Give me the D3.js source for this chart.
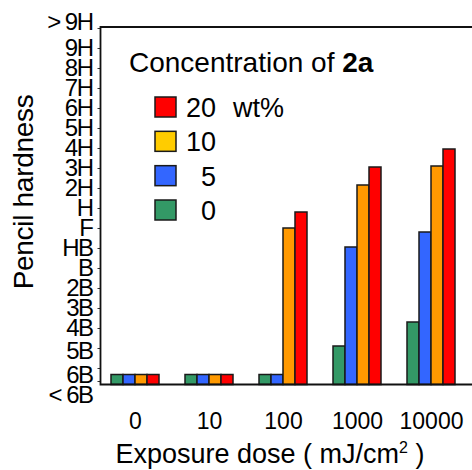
<!DOCTYPE html>
<html>
<head>
<meta charset="utf-8">
<script src="https://cdn.jsdelivr.net/npm/d3@7"></script>
<style>
  body { margin: 0; background: #fff; }
  text { font-family: "Liberation Sans", Arial, sans-serif; fill: #000; }
</style>
</head>
<body>
<div id="wrapper"></div>
<script>
// data
const doses = ["0", "10", "100", "1000", "10000"]
const concentrations = ["0", "5", "10", "20"]
const hardnessLabels = ["< 6B", "6B", "5B", "4B", "3B", "2B", "B", "HB", "F", "H",
  "2H", "3H", "4H", "5H", "6H", "7H", "8H", "9H", "> 9H"]
// hardness as index into hardnessLabels (0.5 = below 6B)
const wt0 = [0.5, 0.5, 0.5, 2.1, 3.3]
const wt5 = [0.5, 0.5, 0.5, 7.05, 7.8]
const wt10 = [0.5, 0.5, 8, 10.15, 11.1]
const wt20 = [0.5, 0.5, 8.8, 11.05, 11.95]
const legendOrder = ["20", "10", "5", "0"]

const seriesValues = { "0": wt0, "5": wt5, "10": wt10, "20": wt20 }
const barColor = { "0": "#339966", "5": "#3366ff", "10": "#ff9900", "20": "#ff0000" }
const legendColor = { "0": "#339966", "5": "#3366ff", "10": "#ffcc00", "20": "#ff0000" }

const width = 472
const height = 470
const plotLeft = 100.5
const plotTop = 27
const plotBottom = 384.5

const svg = d3.select("#wrapper").append("svg")
  .attr("width", width)
  .attr("height", height)

// scales
const xScale = d3.scalePoint().domain(doses).range([98, 468]).padding(0.5)
const innerScale = d3.scaleBand().domain(concentrations).range([-24, 24])
const yScale = d3.scaleLinear().domain([0, 1, 18]).range([381, 368, 28])

// bars
const groups = svg.append("g").selectAll("g")
  .data(doses)
  .join("g")
  .attr("transform", d => `translate(${xScale(d)},0)`)

groups.selectAll("rect")
  .data((dose, i) => concentrations.map(c => ({ c, v: seriesValues[c][i] })))
  .join("rect")
  .attr("x", d => innerScale(d.c))
  .attr("width", innerScale.bandwidth())
  .attr("y", d => yScale(d.v))
  .attr("height", d => plotBottom - yScale(d.v))
  .attr("fill", d => barColor[d.c])
  .attr("stroke", "#1a1a1a")
  .attr("stroke-width", 1.5)

// y axis
const labelShift = { 0: 14, 1: 7, 2: 3, 18: -6 }
const yAxis = svg.append("g")
  .attr("transform", `translate(${plotLeft},0)`)
  .call(d3.axisLeft(yScale)
    .tickValues(d3.range(hardnessLabels.length))
    .tickFormat(i => hardnessLabels[i])
    .tickSize(3)
    .tickPadding(5))
yAxis.select(".domain").remove()
yAxis.selectAll(".tick line").attr("stroke", "#333").attr("stroke-width", 1)
yAxis.selectAll(".tick text")
  .attr("font-family", "Liberation Sans, Arial, sans-serif")
  .attr("font-size", 24)
  .attr("letter-spacing", -1.5)
  .attr("y", i => labelShift[i] || 0)

// frame lines
svg.append("path")
  .attr("d", `M${width},${plotTop}H${plotLeft}V${plotBottom}H${width}`)
  .attr("fill", "none")
  .attr("stroke", "#111")
  .attr("stroke-width", 1.8)

// x axis labels
const xAxis = svg.append("g")
  .attr("transform", `translate(0,${plotBottom})`)
  .call(d3.axisBottom(xScale).tickSize(0).tickPadding(28))
xAxis.select(".domain").remove()
xAxis.selectAll(".tick text")
  .attr("font-family", "Liberation Sans, Arial, sans-serif")
  .attr("font-size", 23)

// axis titles
const xTitle = svg.append("text")
  .attr("x", 270)
  .attr("y", 463)
  .attr("text-anchor", "middle")
  .attr("font-size", 27)
xTitle.append("tspan").text("Exposure dose ( mJ/cm")
xTitle.append("tspan").attr("font-size", 16).attr("dy", -10).text("2")
xTitle.append("tspan").attr("dy", 10).text(" )")

svg.append("text")
  .attr("transform", "translate(33,192) rotate(-90)")
  .attr("text-anchor", "middle")
  .attr("font-size", 28)
  .attr("letter-spacing", -0.3)
  .text("Pencil hardness")

// legend
const legendTitle = svg.append("text")
  .attr("x", 129)
  .attr("y", 72)
  .attr("font-size", 28)
legendTitle.append("tspan").text("Concentration of ")
legendTitle.append("tspan").attr("font-weight", "bold").text("2a")

const legendRow = d3.scalePoint().domain(legendOrder).range([107, 210])
const legend = svg.append("g").selectAll("g")
  .data(legendOrder)
  .join("g")
  .attr("transform", d => `translate(0,${legendRow(d)})`)

legend.append("rect")
  .attr("x", 155)
  .attr("y", -10)
  .attr("width", 21)
  .attr("height", 20)
  .attr("fill", d => legendColor[d])
  .attr("stroke", "#1a1a1a")
  .attr("stroke-width", 1.5)

legend.append("text")
  .attr("x", 216)
  .attr("y", 10)
  .attr("text-anchor", "end")
  .attr("font-size", 27)
  .text(d => d)

svg.append("text")
  .attr("x", 233)
  .attr("y", legendRow("20") + 10)
  .attr("font-size", 27)
  .text("wt%")
</script>
</body>
</html>
